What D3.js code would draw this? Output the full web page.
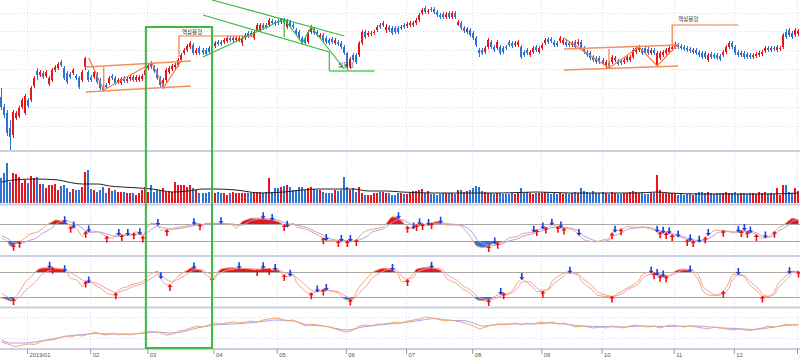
<!DOCTYPE html>
<html><head><meta charset="utf-8">
<script src="https://cdn.jsdelivr.net/npm/d3@7"></script>
<style>body{margin:0;background:#fff}svg{display:block}</style>
</head><body>
<svg id="c" width="800" height="360"></svg>
<script>
// ---------- DATA ----------
const openP = [63,53,47,32,25,42,44,53,47,60, 60,74,89,85,87,84,76,80,90,92, 98,92,87,86,87,84,82,80,93,88, 83,83,86,80,74,75,77,84,82,78,
 77,82,79,81,83,80,80,81,85,92, 97,93,90,82,73,80,88,91,93,95, 100,107,110,113,115,107,112,110,110,112, 110,114,118,118,118,119,122,120,120,120,
 117,122,127,127,122,130,130,135,135,135, 139,138,139,138,140,133,138,135,130,128, 122,120,118,128,131,128,123,125,122,120, 121,117,118,117,113,107,93,105,105,105,
 117,128,125,126,127,130,135,135,130,133, 132,132,132,132,135,134,135,135,137,140, 147,152,148,151,151,148,145,146,143,147, 143,147,135,137,132,128,130,127,122,110,
 110,108,113,118,113,112,113,112,113,118, 117,115,115,113,108,110,105,108,113,108, 112,117,121,121,118,117,119,117,118,117, 115,118,116,118,112,108,107,103,102,102,
 100,95,97,98,100,99,99,98,100,100, 103,108,110,110,112,111,107,110,95,102, 105,107,108,111,113,115,114,113,112,111, 108,110,108,107,107,100,106,105,105,104,
 105,108,113,117,113,108,105,107,106,105, 103,104,105,106,109,112,110,112,110,111, 113,128,130,127,125,126];
const closeP = [53,45,27,23,48,47,52,60,64,54, 72,82,85,88,83,88,82,90,93,96, 95,82,78,83,90,82,73,88,102,80, 80,88,78,72,70,73,82,82,77,80,
 81,79,81,83,80,83,83,84,90,95, 93,89,82,75,80,90,92,94,95,100, 105,110,114,117,107,110,107,107,106,108, 114,117,116,116,120,122,120,122,122,122,
 122,125,124,125,128,135,135,132,133,140, 137,136,137,141,137,139,134,133,127,123, 117,117,128,133,127,125,125,120,118,117, 118,120,116,113,107,93,101,100,98,117,
 128,123,127,127,128,133,133,137,133,130, 127,128,128,133,133,136,137,137,140,145, 150,148,149,150,148,145,143,143,146,143, 147,143,138,132,129,131,125,122,115,107,
 107,112,120,113,110,118,107,108,112,115, 114,117,118,103,105,107,108,112,110,112, 115,120,118,119,115,115,122,120,115,115, 117,113,118,112,108,105,102,100,98,98,
 97,98,94,103,102,96,97,100,103,103, 110,112,113,107,108,107,110,107,107,107, 108,110,112,113,116,113,112,111,110,109, 110,107,105,103,103,105,103,103,102,101,
 108,113,117,113,107,105,107,103,103,103, 105,106,107,108,112,110,112,111,113,112, 125,123,125,123,130,129];
const highP = [72,56,50,40,50,49,54,62,66,62, 74,84,92,90,89,90,84,92,95,98, 100,94,89,88,92,86,84,90,103,90, 85,90,88,82,76,77,84,86,84,82,
 83,84,83,85,85,85,85,86,92,97, 99,95,92,84,82,92,94,96,97,102, 107,112,116,119,117,112,114,112,112,114, 116,119,120,120,122,124,124,124,124,124,
 124,127,129,129,129,137,137,137,137,142, 141,140,141,142,142,141,140,137,132,130, 124,122,130,135,133,130,127,127,124,122, 123,122,120,119,115,108,103,107,107,119,
 130,130,129,129,130,135,137,139,136,135, 134,134,134,135,137,138,139,139,142,147, 152,154,151,153,153,150,147,148,148,149, 149,149,140,139,134,133,132,129,124,112,
 112,114,122,120,115,120,115,114,115,120, 119,119,120,115,110,112,110,114,115,114, 117,122,123,123,120,119,124,122,120,119, 119,120,121,120,114,110,109,105,104,104,
 102,100,99,105,104,101,101,102,105,105, 112,114,115,112,114,113,112,112,109,109, 110,112,114,115,118,117,116,115,114,113, 112,112,110,109,109,107,108,107,107,106,
 110,115,119,119,115,110,109,109,108,107, 107,108,109,110,114,114,114,114,115,114, 127,131,132,129,132,131];
const lowP = [50,42,24,10,22,40,42,51,45,52, 58,72,80,83,81,82,74,78,88,90, 93,80,76,81,85,80,71,78,90,78, 78,81,76,70,68,71,75,80,75,76,
 75,77,77,79,78,78,78,79,83,90, 91,87,80,73,71,78,86,89,91,93, 98,105,108,111,105,105,105,105,104,106, 108,112,114,114,116,117,118,118,118,118,
 114,120,122,123,120,128,128,130,131,133, 135,134,135,136,135,131,132,131,125,121, 115,115,116,126,125,123,121,118,116,115, 116,115,114,111,105,90,91,98,96,103,
 115,121,123,124,125,128,131,133,127,128, 125,126,126,130,131,132,133,133,135,138, 145,146,146,148,146,143,141,141,141,141, 141,141,134,130,127,126,123,120,113,103,
 105,106,111,111,108,110,105,106,110,113, 112,113,113,101,103,105,103,106,108,106, 110,115,116,117,113,113,117,115,113,113, 113,111,114,110,106,103,100,98,96,96,
 95,92,92,96,98,94,95,96,98,98, 101,106,108,105,106,105,105,105,94,100, 103,105,106,109,111,111,110,109,108,107, 106,105,103,101,101,98,101,101,100,99,
 103,106,111,111,105,103,103,101,101,101, 101,102,103,104,107,108,108,109,108,109, 111,121,123,121,123,124];
const volume = [25,30,40,21,30,29,26,20,23,20, 27,25,26,19,19,15,18,18,19,13, 17,18,15,11,14,13,13,16,31,33, 14,13,11,13,16,10,15,12,13,11,
 11,11,10,10,10,8,10,13,16,11, 18,11,13,13,15,11,12,11,21,18, 18,18,16,18,15,13,10,10,10,11, 11,10,11,10,10,8,10,11,10,10,
 10,10,10,10,11,11,11,10,11,25, 11,15,15,16,17,18,16,13,13,16, 16,13,15,16,14,13,13,11,10,10, 10,13,12,13,26,16,13,15,11,16,
 10,8,8,8,10,10,11,11,10,10, 8,8,10,10,9,9,10,12,12,13, 14,10,12,9,9,8,9,10,10,10, 10,9,13,13,11,12,13,15,17,16,
 12,11,10,10,9,10,10,9,9,9, 10,9,10,15,10,11,10,9,10,10, 10,11,10,9,10,9,10,9,10,9, 10,11,10,15,12,11,10,12,10,10,
 11,10,9,11,10,9,9,10,10,11, 12,11,10,10,9,9,10,10,28,13, 10,10,10,10,10,8,9,8,9,9, 8,10,11,11,10,11,10,9,10,10,
 10,11,10,10,11,9,10,10,9,10, 10,9,11,10,11,9,10,9,15,8, 18,18,11,10,15,12];
const volMA = [[0,21],[4,23],[11,24],[19,23],[22,21],[27,19],[32,19],[36,17],[40,16],[46,15],[50,14],[57,11],[62,12],[67,14],[71,14],[78,13],[86,10],[94,11],[100,13],[106,14],[111,14],[117,14],[122,12],[128,12],[133,11],[144,10],[155,10],[166,10],[178,11],[189,10],[200,10],[211,10],[218,11],[222,10],[233,9],[244,9],[255,9],[265,10]];

const monthIdx = [9,30,49,71,92,115,135,157,180,200,224,244,265];
const monthLabels = ["2019/01","02","03","04","05","06","07","08","09","10","11","12","2020/01"];
const priceGrid = [34,53,72,91,110,129,147];

// panel 3 (fast stochastic)
const stoK = [[0,33],[2,23],[3,10],[5,18],[7,28],[9,43],[12,52],[13,57],[15,72],[17,82],[18,87],[20,84],[22,77],[23,67],[25,62],[27,38],[28,52],[30,54],[32,52],[33,48],[35,38],[37,33],[38,43],[40,43],[42,43],[43,43],[45,52],[47,38],[48,57],[50,77],[52,72],[53,57],[55,57],[57,62],[60,67],[63,72],[65,77],[67,72],[68,77],[70,77],[73,77],[77,72],[78,62],[80,82],[82,89],[83,92],[87,92],[88,89],[90,87],[92,82],[93,77],[95,67],[97,77],[98,67],[100,62],[102,57],[103,52],[105,43],[107,33],[108,28],[110,26],[112,25],[115,25],[117,25],[118,28],[120,48],[122,57],[123,59],[125,62],[127,67],[128,77],[130,96],[132,92],[133,84],[135,67],[137,62],[138,72],[140,75],[142,72],[143,77],[145,82],[147,75],[148,72],[152,72],[153,67],[155,48],[157,23],[158,10],[160,6],[162,10],[163,16],[165,20],[167,23],[168,30],[170,36],[172,40],[173,46],[175,49],[177,52],[178,57],[180,62],[182,67],[183,73],[185,67],[187,62],[188,62],[190,57],[192,43],[193,33],[195,25],[197,23],[198,23],[200,28],[202,33],[203,48],[205,57],[207,62],[208,67],[212,65],[213,67],[215,62],[217,57],[218,52],[220,49],[222,48],[223,43],[225,38],[227,33],[228,28],[230,25],[232,23],[233,28],[235,43],[237,55],[238,57],[240,55],[242,52],[243,49],[245,52],[247,57],[248,52],[250,48],[252,38],[253,33],[255,38],[257,52],[258,62],[260,72],[262,87],[263,92],[265,87]];
const stoD = [[0,40],[2,33],[3,26],[5,20],[7,20],[9,26],[12,36],[13,44],[15,54],[17,65],[18,74],[20,82],[22,84],[23,80],[25,73],[27,62],[28,55],[30,50],[32,52],[33,51],[35,46],[37,40],[38,38],[40,40],[42,42],[43,43],[45,45],[47,45],[48,47],[50,60],[52,68],[53,66],[55,62],[57,60],[60,63],[63,68],[65,72],[67,74],[68,75],[70,76],[73,76],[77,75],[78,71],[80,72],[82,80],[83,85],[87,90],[88,90],[90,89],[92,86],[93,83],[95,76],[97,74],[98,72],[100,68],[102,63],[103,58],[105,50],[107,42],[108,36],[110,30],[112,27],[115,26],[117,25],[118,26],[120,32],[122,42],[123,50],[125,56],[127,61],[128,67],[130,80],[132,88],[133,88],[135,80],[137,72],[138,70],[140,72],[142,73],[143,74],[145,77],[147,78],[148,76],[152,73],[153,71],[155,62],[157,45],[158,30],[160,18],[162,12],[163,11],[165,14],[167,18],[168,23],[170,28],[172,33],[173,38],[175,43],[177,47],[178,51],[180,56],[182,61],[183,65],[185,66],[187,65],[188,64],[190,61],[192,53],[193,44],[195,34],[197,27],[198,24],[200,24],[202,28],[203,36],[205,45],[207,53],[208,59],[212,64],[213,65],[215,65],[217,61],[218,57],[220,53],[222,50],[223,47],[225,42],[227,37],[228,33],[230,29],[232,25],[233,25],[235,32],[237,42],[238,49],[240,53],[242,54],[243,52],[245,51],[247,53],[248,54],[250,52],[252,45],[253,39],[255,36],[257,43],[258,52],[260,62],[262,75],[263,84],[265,88]];
const sell3 = [21,24,29,39,42,46,52,64,73,87,90,95,108,113,116,132,137,139,142,146,164,177,180,183,186,192,204,218,220,222,225,229,232,235,245,247,249,254];
const buy3 = [4,6,23,28,35,40,44,47,55,66,94,107,112,115,118,135,138,140,143,162,165,178,181,185,187,203,206,219,221,223,228,230,234,240,246,248,251,257];

// panel 4 (slow stochastic)
const slowK = [[0,18],[2,13],[3,10],[4,15],[6,33],[7,45],[8,57],[10,69],[12,85],[13,89],[15,90],[17,90],[18,89],[20,87],[22,77],[23,65],[25,61],[27,45],[28,57],[30,53],[32,45],[33,41],[35,29],[37,25],[38,29],[40,41],[42,45],[43,49],[45,53],[47,57],[48,65],[50,77],[52,81],[53,65],[54,53],[56,49],[57,57],[58,65],[60,77],[62,85],[63,90],[65,87],[67,81],[68,73],[70,66],[71,65],[72,81],[74,89],[77,90],[80,89],[83,87],[85,85],[87,89],[88,89],[90,85],[92,85],[93,77],[95,69],[97,73],[98,57],[100,41],[102,29],[103,29],[105,33],[107,38],[108,37],[110,33],[112,29],[113,21],[115,13],[117,15],[118,33],[120,53],[122,69],[123,77],[125,85],[127,89],[128,89],[130,85],[132,73],[133,57],[135,61],[137,77],[138,87],[140,90],[142,92],[143,90],[145,87],[147,77],[148,65],[150,57],[152,49],[153,41],[155,33],[157,21],[158,14],[160,11],[162,13],[163,17],[165,25],[167,29],[168,25],[170,37],[172,57],[173,63],[175,53],[177,41],[178,33],[180,33],[182,41],[183,57],[185,69],[187,77],[188,80],[190,77],[192,69],[193,57],[195,45],[197,33],[198,25],[200,22],[202,21],[203,21],[205,29],[207,37],[208,41],[210,49],[212,61],[213,73],[215,79],[217,77],[218,73],[220,69],[222,71],[223,77],[225,85],[227,87],[228,85],[230,77],[232,57],[233,37],[235,25],[237,23],[238,25],[240,33],[242,57],[243,73],[245,75],[247,69],[248,57],[250,41],[252,29],[253,21],[255,21],[257,33],[258,49],[260,65],[262,77],[263,82],[265,81]];
const slowD = [[0,28],[2,20],[3,15],[4,13],[6,20],[7,27],[8,36],[10,48],[12,62],[13,72],[15,80],[17,86],[18,88],[20,88],[22,84],[23,78],[25,70],[27,60],[28,57],[30,56],[32,52],[33,48],[35,40],[37,33],[38,30],[40,34],[42,39],[43,43],[45,48],[47,52],[48,57],[50,66],[52,74],[53,72],[54,66],[56,58],[57,57],[58,60],[60,68],[62,76],[63,82],[65,86],[67,85],[68,80],[70,74],[71,70],[72,74],[74,82],[77,87],[80,89],[83,88],[85,87],[87,88],[88,88],[90,87],[92,86],[93,82],[95,76],[97,74],[98,67],[100,55],[102,43],[103,36],[105,33],[107,35],[108,36],[110,35],[112,32],[113,28],[115,20],[117,16],[118,22],[120,37],[122,53],[123,64],[125,74],[127,82],[128,86],[130,87],[132,81],[133,70],[135,63],[137,68],[138,78],[140,85],[142,89],[143,90],[145,89],[147,83],[148,75],[150,66],[152,57],[153,49],[155,41],[157,30],[158,22],[160,16],[162,13],[163,14],[165,19],[167,25],[168,27],[170,31],[172,45],[173,56],[175,57],[177,49],[178,41],[180,36],[182,38],[183,47],[185,60],[187,70],[188,77],[190,78],[192,74],[193,66],[195,55],[197,42],[198,33],[200,27],[202,23],[203,21],[205,24],[207,31],[208,37],[210,44],[212,53],[213,64],[215,73],[217,76],[218,75],[220,72],[222,70],[223,73],[225,80],[227,85],[228,86],[230,82],[232,69],[233,50],[235,34],[237,26],[238,24],[240,28],[242,43],[243,62],[245,72],[247,72],[248,64],[250,50],[252,37],[253,27],[255,22],[257,26],[258,39],[260,55],[262,70],[263,78],[265,81]];
const sell4 = [16,21,29,53,64,79,87,91,96,105,108,130,143,166,173,189,216,218,220,229,245,262];
const buy4 = [4,17,28,38,56,70,85,89,94,103,107,116,135,162,167,180,203,217,219,221,240,253,265];

// panel 5
const obvSignal = [[0,8],[3,5],[8,5],[13,7],[17,9],[22,12],[27,13.5],[32,14.5],[37,14],[43,14],[48,15],[52,16],[56,15],[60,16],[65,20],[71,23],[80,24.5],[88,27],[91,28],[97,27],[102,23],[107,22],[115,18],[120,21],[127,23.5],[133,25],[140,28],[144,29.5],[150,27.5],[153,27.5],[157,25],[160,22],[167,24],[177,24],[182,25],[187,24],[193,22],[200,21.5],[207,21],[213,22],[220,21.5],[230,22],[240,20],[247,19],[250,18.5],[257,21],[263,23],[265,23]];
const obvLine = [[0,6],[2,4],[4,2],[5,1.5],[7,3],[9,4],[11,3.5],[13,6],[15,8],[17,8],[19,10],[21,12],[23,11],[25,13],[27,12],[29,14],[31,16],[33,14],[35,13],[37,15],[39,13],[41,14],[43,13],[45,14.5],[47,15],[49,17],[51,16],[53,15],[55,13],[57,14],[59,17],[61,18],[63,20],[65,22],[67,21],[69,23],[71,25],[73,24],[75,25],[77,26],[79,25],[81,26],[83,27],[85,26],[87,28],[89,29],[91,30],[93,29],[95,27],[97,28],[99,25],[101,22],[103,24],[105,23],[107,22],[109,21],[111,19],[113,17],[115,16],[117,18],[119,22],[121,23],[123,22],[125,24],[127,24],[129,25],[131,26],[133,25],[135,27],[137,28],[139,29],[141,31],[143,30],[145,29],[147,27],[149,28],[151,27],[153,26],[155,24],[157,22],[159,19],[161,21],[163,23],[165,24],[167,23],[169,24],[171,25],[173,23],[175,25],[177,24],[179,26],[181,25],[183,26],[185,24],[187,25],[189,23],[191,21],[193,22],[195,21],[197,20],[199,21],[201,20],[203,22],[205,21],[207,20],[209,22],[211,23],[213,22],[215,21],[217,22],[219,20],[221,22],[223,23],[225,22],[227,21],[229,22],[231,21],[233,20],[235,19],[237,21],[239,20],[241,19],[243,18],[245,19],[247,18],[249,17.5],[251,19],[253,20],[255,22],[257,21],[259,22],[261,24],[263,23],[265,24]];
const obvGrid = [10,31];

// pattern drawings (candle index, price)
const inv1Upper = [[28,93],[63,99]];
const inv1Lower = [[28,68],[63,74]];
const inv1Zig = [[29,102],[34,70],[50,97],[54,73],[60,100]];
const inv1Neck = [[34,93],[34,70]];
const inv1Target = [[59,103],[59,124],[84,124]];
const inv1Label = [60,126,"역삼봉형"];
const triUpper = [[70,160],[114,124]];
const triLower = [[67,145],[109,108]];
const triRise = [[67,103],[94,141]];
const triZig = [[94,141],[100,117],[103,133],[114,91]];
const triV1 = [[94,141],[94,123]];
const triV2 = [[109,108],[109,89]];
const triBase = [[109,89],[124,89]];
const triLabel = [112,93,"삼봉형"];
const inv2Upper = [[187,111],[225,115]];
const inv2Lower = [[187,90],[225,94]];
const inv2Zig = [[187,122],[202,92],[212,113],[218,94],[225,116]];
const inv2Neck = [[202,111],[202,92]];
const inv2Target = [[223,115],[223,135],[245,135]];
const inv2Label = [225,139,"역삼봉형"];
const highlight = [48,70,133];

// ---------- DRAW ----------
const RED='#e5161d', BLUE='#2f72d6', ORANGE='#f37b3d', GREEN='#3cb843';
const N = closeP.length;
const svg = d3.select('#c');
const xl = d3.scaleLinear().domain([0,N]).range([0,800]);
const cx = i => xl(i+0.5);
const bx = i => Math.round(xl(i));
const yP = d3.scaleLinear().domain([10,160]).range([150,0]);
const yV = d3.scaleLinear().domain([0,40]).range([203,163]);
const y3 = d3.scaleLinear().domain([0,100]).range([249.5,215.5]);
const y4 = d3.scaleLinear().domain([0,100]).range([305.3,263.7]);
const y5 = d3.scaleLinear().domain([0,40]).range([348,308]);

svg.append('rect').attr('width',800).attr('height',360).attr('fill','#fff');
const defs = svg.append('defs');
function clip(id,a,b){defs.append('clipPath').attr('id',id).append('rect').attr('x',0).attr('y',a).attr('width',800).attr('height',b-a);}
clip('c3h',205,y3(75)); clip('c3l',y3(25),255.5); clip('c4h',257,y4(80)); clip('c4l',y4(20),306.5);

// grid
const grid = svg.append('g').attr('stroke','#d9dfea').attr('stroke-dasharray','1,2').attr('shape-rendering','crispEdges');
monthIdx.forEach(m=>grid.append('line').attr('x1',bx(m)+0.5).attr('x2',bx(m)+0.5).attr('y1',0).attr('y2',349));
priceGrid.forEach(p=>{const y=Math.round(yP(p))+0.5;grid.append('line').attr('x1',0).attr('x2',800).attr('y1',y).attr('y2',y);});
obvGrid.forEach(p=>{const y=Math.round(y5(p))+0.5;grid.append('line').attr('x1',0).attr('x2',800).attr('y1',y).attr('y2',y);});

// threshold lines
const thr = svg.append('g').attr('stroke','#a8a8a8').attr('shape-rendering','crispEdges');
[[y3,75],[y3,25],[y4,80],[y4,20]].forEach(([s,v])=>{const y=Math.round(s(v))+0.5;thr.append('line').attr('x1',0).attr('x2',800).attr('y1',y).attr('y2',y);});

// separators
svg.append('g').attr('stroke','#c8d1e2').attr('stroke-width',2).selectAll('line')
 .data([151,204.5,256,307.5,349]).join('line').attr('x1',0).attr('x2',800).attr('y1',d=>d).attr('y2',d=>d);

// candles
const idx = d3.range(N);
const col = i => closeP[i]>=openP[i]?RED:BLUE;
const cg = svg.append('g').attr('shape-rendering','crispEdges');
cg.selectAll('rect.w').data(idx).join('rect').attr('class','w')
 .attr('x',i=>bx(i)+1).attr('width',1).attr('y',i=>yP(highP[i])).attr('height',i=>yP(lowP[i])-yP(highP[i])).attr('fill',col);
cg.selectAll('rect.b').data(idx).join('rect').attr('class','b')
 .attr('x',i=>bx(i)).attr('width',2).attr('y',i=>yP(Math.max(openP[i],closeP[i])))
 .attr('height',i=>Math.max(1,Math.abs(yP(openP[i])-yP(closeP[i])))).attr('fill',col);

// volume
cg.selectAll('rect.v').data(idx).join('rect').attr('class','v')
 .attr('x',i=>bx(i)).attr('width',2.4).attr('y',i=>yV(volume[i])).attr('height',i=>yV(0)-yV(volume[i])).attr('fill',col);
svg.append('path').datum(volMA).attr('fill','none').attr('stroke','#222').attr('stroke-width',1)
 .attr('d',d3.line().x(d=>cx(d[0])).y(d=>yV(d[1])).curve(d3.curveMonotoneX));

// indicator helpers
function lineOf(s){return d3.line().x(d=>cx(d[0])).y(d=>s(d[1])).curve(d3.curveMonotoneX);}
function valAt(series,i){const b=d3.bisector(d=>d[0]).left(series,i);if(b<=0)return series[0][1];if(b>=series.length)return series[series.length-1][1];const a=series[b-1],c=series[b];return a[1]+(c[1]-a[1])*(i-a[0])/(c[0]-a[0]);}
function fills(series,s,hi,lo,ch,cl){
 svg.append('path').datum(series).attr('fill',RED).attr('clip-path',`url(#${ch})`)
  .attr('d',d3.area().x(d=>cx(d[0])).y0(s(hi)).y1(d=>s(d[1])).curve(d3.curveMonotoneX));
 svg.append('path').datum(series).attr('fill',BLUE).attr('clip-path',`url(#${cl})`)
  .attr('d',d3.area().x(d=>cx(d[0])).y0(s(lo)).y1(d=>s(d[1])).curve(d3.curveMonotoneX));
}
function arrows(series,s,sells,buys){
 const g=svg.append('g');
 g.selectAll('path.s').data(sells).join('path').attr('fill','#1a3fe0').attr('d',i=>{const x=cx(i),y=s(valAt(series,i))+1;
   return `M${x-2.5},${y-3}L${x+2.5},${y-3}L${x},${y}ZM${x-0.8},${y-3}V${y-7}H${x+0.8}V${y-3}Z`;});
 g.selectAll('path.b').data(buys).join('path').attr('fill','#f01010').attr('d',i=>{const x=cx(i),y=s(valAt(series,i))-1;
   return `M${x-2.5},${y+3}L${x+2.5},${y+3}L${x},${y}ZM${x-0.8},${y+3}V${y+7}H${x+0.8}V${y+3}Z`;});
}

// panel 3
fills(stoK,y3,75,25,'c3h','c3l');
svg.append('path').datum(stoD).attr('fill','none').attr('stroke','#aaa2ef').attr('stroke-width',1).attr('d',lineOf(y3));
svg.append('path').datum(stoK).attr('fill','none').attr('stroke','#f5a46e').attr('stroke-width',1).attr('d',lineOf(y3));
arrows(stoK,y3,sell3,buy3);

// panel 4
fills(slowK,y4,80,20,'c4h','c4l');
svg.append('path').datum(slowD).attr('fill','none').attr('stroke','#f59ab6').attr('stroke-width',1).attr('d',lineOf(y4));
svg.append('path').datum(slowK).attr('fill','none').attr('stroke','#f5a46e').attr('stroke-width',1).attr('d',lineOf(y4));
arrows(slowK,y4,sell4,buy4);

// panel 5
svg.append('path').datum(obvSignal).attr('fill','none').attr('stroke','#aaa2ef').attr('stroke-width',1).attr('d',lineOf(y5));
svg.append('path').datum(obvLine).attr('fill','none').attr('stroke','#f5a46e').attr('stroke-width',1).attr('d',d3.line().x(d=>cx(d[0])).y(d=>y5(d[1])));

// pattern drawings
const pl = d3.line().x(d=>cx(d[0])).y(d=>yP(d[1]));
function draw(pts,color,w){svg.append('path').datum(pts).attr('fill','none').attr('stroke',color).attr('stroke-width',w).attr('d',pl);}
[inv1Upper,inv1Lower,inv2Upper,inv2Lower].forEach(p=>draw(p,'#f49060',1.6));
[inv1Zig,inv1Neck,inv1Target,inv2Zig,inv2Neck,inv2Target].forEach(p=>draw(p,ORANGE,1.2));
[triUpper,triLower,triRise,triZig,triV1,triV2].forEach(p=>draw(p,GREEN,1.2));
draw(triBase,'#86d886',2);
[inv1Label,triLabel,inv2Label].forEach(([i,p,t])=>svg.append('text').attr('x',cx(i)).attr('y',yP(p))
 .attr('font-family','Noto Sans CJK KR').attr('font-size',5.5).attr('fill','#333').text(t));

// highlight box
svg.append('rect').attr('x',cx(highlight[0])).attr('y',yP(highlight[2])).attr('width',cx(highlight[1])-cx(highlight[0]))
 .attr('height',348-yP(highlight[2])).attr('fill','none').attr('stroke',GREEN).attr('stroke-width',2);

// x axis
const ax = svg.append('g').attr('transform','translate(0,349)')
 .call(d3.axisBottom(xl).tickValues(monthIdx).tickFormat((d,k)=>monthLabels[k]).tickSize(5));
ax.select('.domain').remove();
ax.selectAll('.tick line').attr('stroke','#999');
ax.selectAll('.tick text').attr('text-anchor','start').attr('x',2).attr('y',3.5).attr('dy','0.71em')
 .attr('font-family','Liberation Sans').attr('font-size',5.8).attr('fill','#555');
</script>
</body></html>
